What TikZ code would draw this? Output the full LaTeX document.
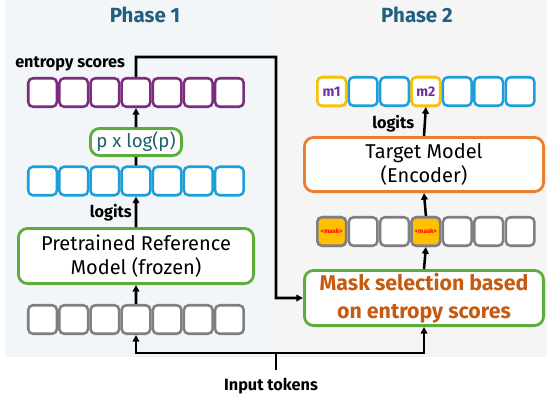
\documentclass[tikz,border=0pt]{standalone}
\usepackage{fontspec}
\setmainfont{Fira Sans}
\usetikzlibrary{arrows.meta}
\definecolor{bgone}{HTML}{F2F6F8}
\definecolor{bgtwo}{HTML}{F5F5F5}
\definecolor{ttl}{HTML}{22607E}
\definecolor{cpurple}{HTML}{7A2C7F}
\definecolor{cblue}{HTML}{1E9ED8}
\definecolor{cgray}{HTML}{7F7F7F}
\definecolor{cgreen}{HTML}{5DAD3A}
\definecolor{corange}{HTML}{ED7D31}
\definecolor{cyellow}{HTML}{FFC000}
\definecolor{mtext}{HTML}{7030A0}
\definecolor{selt}{HTML}{C55A11}
\definecolor{pxl}{HTML}{1F5F6E}
\tikzset{
  cell/.style={draw=#1, line width=1.9pt, rounded corners=3.5pt, fill=white,
    minimum width={(31.14-2.5)*0.75pt}, minimum height={28.5*0.75pt}, inner sep=0pt},
  bigbox/.style={draw=#1, line width=2.1pt, rounded corners=7pt, fill=white,
    inner sep=0pt, align=center},
  arr/.style={line width=1.9pt, -{Triangle[length=5pt,width=5pt]}},
  ln/.style={line width=1.9pt},
  lbl/.style={font=\bfseries\fontsize{12.2}{14}\selectfont, inner sep=0pt},
  regtxt/.style={font=\fontsize{15}{18}\selectfont},
}
\begin{document}
\begin{tikzpicture}[x=0.75pt,y=-0.75pt]
\useasboundingbox (0,0) rectangle (547,401);
% panels
\fill[bgone] (5,0) rectangle (277,357);
\fill[bgtwo] (277,0) rectangle (547,357);
\node[font=\bfseries\fontsize{15.4}{18}\selectfont, text=ttl] (ph1) at (145,15) {Phase 1};
\node[font=\bfseries\fontsize{15.4}{18}\selectfont, text=ttl] (ph2) at (417,15) {Phase 2};
% left rows
\foreach \i in {1,...,7}{
  \node[cell=cpurple] (e\i) at ({27+31.14*(\i-0.5)},92.5) {};
  \node[cell=cblue] (b\i) at ({27+31.14*(\i-0.5)},181) {};
  \node[cell=cgray] (g\i) at ({27+31.14*(\i-0.5)},319.5) {};
}
\node[lbl, anchor=west] (es) at (15,64) {entropy scores};
\node[bigbox=cgreen, font=\fontsize{14}{18}\selectfont, minimum width={(94-2.8)*0.75pt}, minimum height={(30-2.8)*0.75pt},
  text=pxl] (plog) at (136,142) {p x log(p)};
\node[bigbox=cgreen, regtxt, minimum width={(238-2.8)*0.75pt}, minimum height={(58-2.8)*0.75pt}]
  (pre) at (136,256) {Pretrained Reference\\Model (frozen)};
\node[lbl, anchor=east] (lg1) at (132,213) {logits};
% right rows
\foreach \i in {1,...,7}{
  \pgfmathsetmacro{\cx}{316+31.4*(\i-0.5)}
  \node[cell=cblue] (o\i) at (\cx,91.5) {};
  \node[cell=cgray] (k\i) at (\cx,231.5) {};
}
\node[cell=cyellow, font=\bfseries\fontsize{10.5}{12}\selectfont, text=mtext] at (o1) {m1};
\node[cell=cyellow, font=\bfseries\fontsize{10.5}{12}\selectfont, text=mtext] at (o4) {m2};
\node[cell=cgray, fill=cyellow, font=\bfseries\fontsize{4.8}{5}\selectfont, text=red] at (k1) {<mask>};
\node[cell=cgray, fill=cyellow, font=\bfseries\fontsize{4.8}{5}\selectfont, text=red] at (k4) {<mask>};
\node[bigbox=corange, regtxt, minimum width={(242-2.8)*0.75pt}, minimum height={(57-2.8)*0.75pt}]
  (tgt) at (424,164.5) {Target Model\\(Encoder)};
\node[bigbox=cgreen, minimum width={(242-2.8)*0.75pt}, minimum height={(58-2.8)*0.75pt},
  font=\bfseries\fontsize{16}{21}\selectfont, text=selt] (sel) at (424,298) {Mask selection based\\on entropy scores};
\node[lbl, anchor=west] (lg2) at (372,124) {logits};
\node[lbl] (inp) at (271,386) {Input tokens};
% connectors
\draw[arr] (g4.north) -- (pre.south);
\draw[arr] (pre.north) -- (b4.south);
\draw[ln] (b4.north) -- (plog.south);
\draw[arr] (plog.north) -- (e4.south);
\draw[arr] (e4.north) -- (136,57) -- (276,57) |- (sel.west);
\coordinate (in) at (276,370);
\coordinate (jn) at (276,353);
\draw[ln] (in) -- (jn);
\draw[arr] (jn) -| (g4.south);
\draw[arr] (jn) -| (sel.south);
\draw[arr] (sel.north) -- (k4.south);
\draw[arr] (k4.north) -- (tgt.south);
\draw[arr] (tgt.north) -- (o4.south);
\end{tikzpicture}
\end{document}
